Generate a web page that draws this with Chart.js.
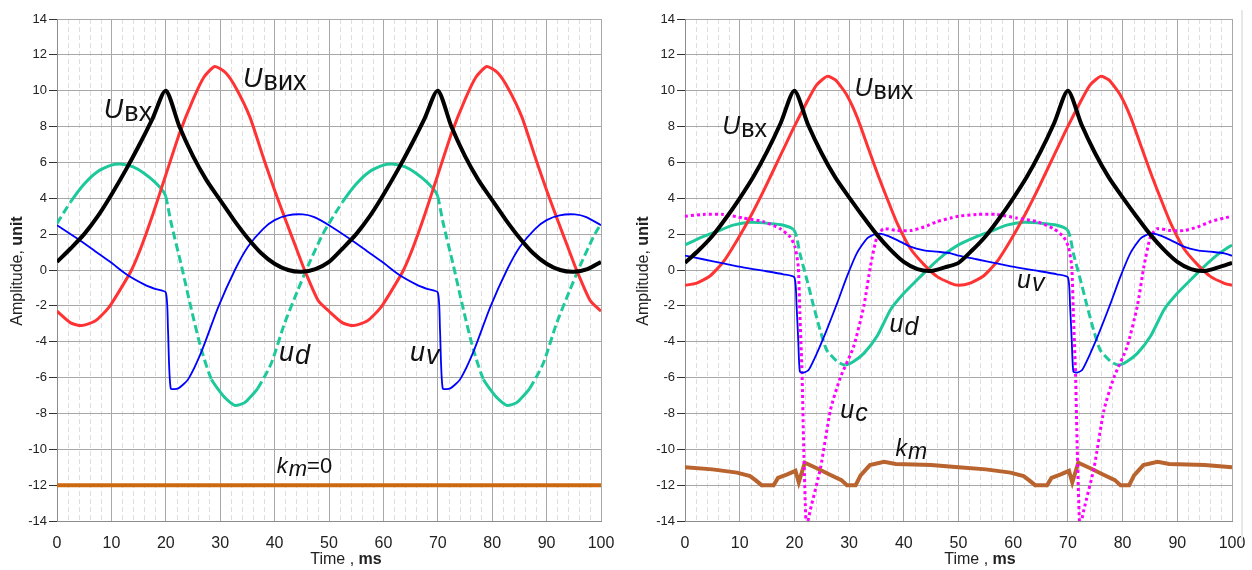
<!DOCTYPE html>
<html>
<head>
<meta charset="utf-8">
<script src="https://cdn.jsdelivr.net/npm/chart.js@4.4.0/dist/chart.umd.min.js"></script>
<style>
  body { margin: 0; background: #fff; width: 1252px; height: 570px; overflow: hidden; position: relative; }
  .panel { position: absolute; top: 0; }
  #leftPanel { left: 0; }
  #rightPanel { left: 627px; }
  #frameLine { position: absolute; left: 1241px; top: 10px; width: 2px; height: 532px; background: #e8e8e8; }
</style>
</head>
<body>
<div class="panel" id="leftPanel"><canvas id="chartLeft" width="620" height="570"></canvas></div>
<div class="panel" id="rightPanel"><canvas id="chartRight" width="625" height="570"></canvas></div>
<div id="frameLine"></div>
<script>
// axis ticks
const xTicks = [0, 10, 20, 30, 40, 50, 60, 70, 80, 90, 100];
const yTicks = [-14, -12, -10, -8, -6, -4, -2, 0, 2, 4, 6, 8, 10, 12, 14];

// left panel (k_m = 0), [time ms, amplitude]
const uInLeft = [[0,0.45],[2.5,1.2],[5,2.0],[7.5,3.0],[10,4.2],[12.5,5.5],[15,6.9],[17.5,8.4],[20,10],[22.5,8.0],[25,6.35],[27.5,5.0],[30,3.9],[32.5,2.8],[35,1.8],[37.5,0.95],[40,0.35],[42.5,0.0],[45,-0.1],[47.5,0.05],
  [50,0.45],[52.5,1.2],[55,2.0],[57.5,3.0],[60,4.2],[62.5,5.5],[65,6.9],[67.5,8.4],[70,10],[72.5,8.0],[75,6.35],[77.5,5.0],[80,3.9],[82.5,2.8],[85,1.8],[87.5,0.95],[90,0.35],[92.5,0.0],[95,-0.1],[97.5,0.05],[100,0.45]];
const uOutLeft = [[0,-2.3],[2.5,-2.95],[4.5,-3.1],[7,-2.85],[9.5,-2.1],[12,-0.9],[13.7,0],[15.5,1.3],[17.5,3.0],[20,5.3],[22.5,7.6],[25,9.5],[27,10.75],[29,11.35],[31,11.0],[33,10.1],[35.5,8.5],[38,6.2],[40,4.45],[42,2.8],[44,1.2],[45.5,0],[48,-1.7],
  [50,-2.3],[52.5,-2.95],[54.5,-3.1],[57,-2.85],[59.5,-2.1],[62,-0.9],[63.7,0],[65.5,1.3],[67.5,3.0],[70,5.3],[72.5,7.6],[75,9.5],[77,10.75],[79,11.35],[81,11.0],[83,10.1],[85.5,8.5],[88,6.2],[90,4.45],[92,2.8],[94,1.2],[95.5,0],[98,-1.7],[100,-2.3]];
const udLeft = [[0,2.6],[2.5,3.8],[5,4.8],[7.5,5.5],[10,5.85],[12,5.9],[14,5.75],[16,5.4],[18,4.9],[19.5,4.4],[20,4.1],[21,2.6],[22.9,0.2],[24.7,-2.2],[26.5,-4.4],[28.4,-6.1],[30.8,-7.1],[32.7,-7.55],[34.5,-7.4],[36.9,-6.6],[39.4,-5.2],[41.8,-3.0],[44.3,-1.1],[46.1,0.2],[48.6,1.85],
  [50,2.6],[52.5,3.8],[55,4.8],[57.5,5.5],[60,5.85],[62,5.9],[64,5.75],[66,5.4],[68,4.9],[69.5,4.4],[70,4.1],[71,2.6],[72.9,0.2],[74.7,-2.2],[76.5,-4.4],[78.4,-6.1],[80.8,-7.1],[82.7,-7.55],[84.5,-7.4],[86.9,-6.6],[89.4,-5.2],[91.8,-3.0],[94.3,-1.1],[96.1,0.2],[98.6,1.85],[100,2.6]];
const uvLeft = [[0,2.5],[4,1.7],[7,1.05],[10,0.4],[12.8,-0.25],[16,-0.8],[18,-1.05],[20,-1.25],[20.4,-3.3],[20.9,-6.6],[22.3,-6.6],[24.1,-6.1],[26.5,-4.6],[29.6,-2.1],[32.7,0],[35.1,1.3],[37.9,2.3],[40,2.78],[42.4,3.05],[45.2,3.1],[47.3,2.95],
  [50,2.5],[54,1.7],[57,1.05],[60,0.4],[62.8,-0.25],[66,-0.8],[68,-1.05],[70,-1.25],[70.4,-3.3],[70.9,-6.6],[72.3,-6.6],[74.1,-6.1],[76.5,-4.6],[79.6,-2.1],[82.7,0],[85.1,1.3],[87.9,2.3],[90,2.78],[92.4,3.05],[95.2,3.1],[97.3,2.95],[100,2.5]];
const kmLeft = [[0,-12],[100,-12]];

// right panel
const uInRight = [[0,0.4],[2.5,1.1],[5,1.9],[7.5,2.9],[10,4.0],[12.5,5.2],[15,6.6],[17.5,8.2],[20,10],[22.5,8.1],[25,6.5],[27.5,5.15],[30,4.05],[32.5,3.0],[35,2.0],[37.5,1.15],[40,0.45],[42.5,0.05],[45,-0.05],[47.5,0.15],
  [50,0.4],[52.5,1.1],[55,1.9],[57.5,2.9],[60,4.0],[62.5,5.2],[65,6.6],[67.5,8.2],[70,10],[72.5,8.1],[75,6.5],[77.5,5.15],[80,4.05],[82.5,3.0],[85,2.0],[87.5,1.15],[90,0.45],[92.5,0.05],[95,-0.05],[97.5,0.15],[100,0.4]];
const uOutRight = [[0,-0.85],[2,-0.75],[4.5,-0.35],[7,0.45],[9.5,1.65],[12,3.0],[14.5,4.5],[17,6.1],[19.5,7.7],[22,9.2],[24,10.3],[26,10.8],[27.5,10.6],[29.5,9.8],[31.5,8.5],[33.5,6.8],[35.4,5.2],[37,3.95],[38.8,2.6],[41.2,1.2],[43.7,0.3],[46.1,-0.37],[48.6,-0.74],
  [50,-0.85],[52,-0.75],[54.5,-0.35],[57,0.45],[59.5,1.65],[62,3.0],[64.5,4.5],[67,6.1],[69.5,7.7],[72,9.2],[74,10.3],[76,10.8],[77.5,10.6],[79.5,9.8],[81.5,8.5],[83.5,6.8],[85.4,5.2],[87,3.95],[88.8,2.6],[91.2,1.2],[93.7,0.3],[96.1,-0.37],[98.6,-0.74],[100,-0.85]];
const udRight = [[0,1.4],[3.3,1.86],[5.75,2.14],[8.8,2.5],[11.9,2.66],[15.5,2.6],[18,2.5],[19.8,2.27],[20.4,1.86],[21,0.93],[22.3,-0.56],[23.5,-2.0],[24.7,-3.35],[25.9,-4.46],[27.8,-5.1],[29.3,-5.3],[30.8,-5.1],[32.7,-4.65],[35.1,-3.7],[37.6,-2.2],[40,-1.3],[42.4,-0.56],[44.9,0.19],[47.3,0.84],
  [50,1.4],[53.3,1.86],[55.75,2.14],[58.8,2.5],[61.9,2.66],[65.5,2.6],[68,2.5],[69.8,2.27],[70.4,1.86],[71,0.93],[72.3,-0.56],[73.5,-2.0],[74.7,-3.35],[75.9,-4.46],[77.8,-5.1],[79.3,-5.3],[80.8,-5.1],[82.7,-4.65],[85.1,-3.7],[87.6,-2.2],[90,-1.3],[92.4,-0.56],[94.9,0.19],[97.3,0.84],[100,1.4]];
const uvRight = [[0,0.8],[3.3,0.6],[7,0.37],[10.6,0.15],[14.3,-0.04],[18,-0.24],[20,-0.41],[20.4,-2.0],[20.7,-3.9],[21,-5.67],[21.7,-5.72],[22.6,-5.58],[24.1,-4.65],[25.9,-3.35],[27.8,-1.86],[29.6,-0.37],[31.4,0.93],[33.3,1.77],[34.8,2.0],[36.3,1.99],[38.8,1.67],[41.2,1.3],[43.7,1.1],[46.1,1.02],[48.6,0.93],
  [50,0.8],[53.3,0.6],[57,0.37],[60.6,0.15],[64.3,-0.04],[68,-0.24],[70,-0.41],[70.4,-2.0],[70.7,-3.9],[71,-5.67],[71.7,-5.72],[72.6,-5.58],[74.1,-4.65],[75.9,-3.35],[77.8,-1.86],[79.6,-0.37],[81.4,0.93],[83.3,1.77],[84.8,2.0],[86.3,1.99],[88.8,1.67],[91.2,1.3],[93.7,1.1],[96.1,1.02],[98.6,0.93],[100,0.8]];
const ucRight = [[0,3.0],[3.3,3.1],[7,3.1],[10.6,2.9],[14.3,2.7],[17.4,2.3],[19.2,1.85],[20.1,1.3],[20.7,0.2],[21,-2.4],[21.4,-5.8],[21.7,-9.9],[22.1,-14],[22.3,-14.5],[22.5,-14],[22.9,-13.4],[24.8,-11.0],[26.6,-7.8],[28.4,-6.0],[30.8,-4.3],[32.7,-2.0],[33.9,0.2],[35.1,1.86],[36.3,2.3],[38.8,2.2],[41.2,2.2],[43.7,2.4],[46.1,2.7],[48.6,2.9],
  [50,3.0],[53.3,3.1],[57,3.1],[60.6,2.9],[64.3,2.7],[67.4,2.3],[69.2,1.85],[70.1,1.3],[70.7,0.2],[71,-2.4],[71.4,-5.8],[71.7,-9.9],[72.1,-14],[72.3,-14.5],[72.5,-14],[72.9,-13.4],[74.8,-11.0],[76.6,-7.8],[78.4,-6.0],[80.8,-4.3],[82.7,-2.0],[83.9,0.2],[85.1,1.86],[86.3,2.3],[88.8,2.2],[91.2,2.2],[93.7,2.4],[96.1,2.7],[98.6,2.9],[100,3.0]];
const kmRight = [[0,-11.0],[5,-11.12],[9.5,-11.3],[11.9,-11.5],[13,-11.75],[14,-12.0],[16.2,-12.0],[17,-11.6],[18.7,-11.4],[20.2,-11.2],[20.8,-11.85],[21.9,-10.75],[24.2,-11.07],[26.6,-11.43],[28.6,-11.72],[29.6,-12.0],[31.2,-12.0],[32.1,-11.45],[33.8,-10.88],[36.4,-10.7],[38.5,-10.82],[45,-10.88],
  [50,-11.0],[55,-11.12],[59.5,-11.3],[61.9,-11.5],[63,-11.75],[64,-12.0],[66.2,-12.0],[67,-11.6],[68.7,-11.4],[70.2,-11.2],[70.8,-11.85],[71.9,-10.75],[74.2,-11.07],[76.6,-11.43],[78.6,-11.72],[79.6,-12.0],[81.2,-12.0],[82.1,-11.45],[83.8,-10.88],[86.4,-10.7],[88.5,-10.82],[95,-10.88],[100,-11.0]];

// curve captions, placed in data units
const notesLeft = [
  { x: 8.6, y: 8.5, main: 'U', sub: 'вх' },
  { x: 34.2, y: 10.2, main: 'U', sub: 'вих' },
  { x: 40.8, y: -5.1, main: 'u', sub: 'd', subItalic: true },
  { x: 64.9, y: -5.1, main: 'u', sub: 'v', subItalic: true },
  { x: 40.4, y: -11.3, main: 'k', sub: 'm', subItalic: true, tail: '=0', small: true }
];
const notesRight = [
  { x: 6.8, y: 7.6, main: 'U', sub: 'вх' },
  { x: 31.0, y: 9.7, main: 'U', sub: 'вих' },
  { x: 60.7, y: -1.0, main: 'u', sub: 'v', subItalic: true },
  { x: 37.4, y: -3.45, main: 'u', sub: 'd', subItalic: true },
  { x: 28.4, y: -8.25, main: 'u', sub: 'c', subItalic: true },
  { x: 38.5, y: -10.4, main: 'k', sub: 'm', subItalic: true, small: true }
];

const FONT = '"Liberation Sans", Arial, sans-serif';
const dashedLeft = [[0, 3], [20, 29], [38, 53], [70, 79], [88, 100]];
const dashedRight = [[20, 29.3], [70, 79.3]];
const inRanges = (v, ranges) => ranges.some(([a, b]) => v >= a && v < b);

// light dashed vertical lines every 2 ms
const minorGrid = {
  id: "minorGrid",
  beforeDraw(chart) {
    const { ctx, chartArea: a } = chart;
    const x = chart.scales.x;
    ctx.save();
    ctx.strokeStyle = "#dedede";
    ctx.lineWidth = 1;
    ctx.setLineDash([5, 3]);
    for (let v = x.min + 2; v < x.max; v += 2) {
      if (v % 10 === 0) continue;
      const px = Math.round(x.getPixelForValue(v)) + 0.5;
      ctx.beginPath();
      ctx.moveTo(px, a.top);
      ctx.lineTo(px, a.bottom);
      ctx.stroke();
    }
    ctx.restore();
  },
};

const curveLabels = {
  id: "curveLabels",
  afterDatasetsDraw(chart, args, opts) {
    const { ctx } = chart;
    const { x, y } = chart.scales;
    ctx.save();
    ctx.fillStyle = "#111";
    ctx.textBaseline = "alphabetic";
    opts.items.forEach((it) => {
      const size = it.small ? opts.smallSize : opts.size;
      let px = x.getPixelForValue(it.x);
      const py = y.getPixelForValue(it.y);
      ctx.font = `italic ${size}px ${FONT}`;
      ctx.fillText(it.main, px, py);
      px += ctx.measureText(it.main).width + 1;
      ctx.font = `${it.subItalic ? "italic " : ""}${size}px ${FONT}`;
      ctx.fillText(it.sub, px, py + opts.subDrop);
      px += ctx.measureText(it.sub).width;
      if (it.tail) {
        ctx.font = `${size}px ${FONT}`;
        ctx.fillText(it.tail, px, py);
      }
    });
    ctx.restore();
  },
};

function drawMixed(ctx, parts, cx, cy, size) {
  let total = 0;
  parts.forEach(([t, w]) => {
    ctx.font = `${w} ${size}px ${FONT}`;
    total += ctx.measureText(t).width;
  });
  let px = cx - total / 2;
  parts.forEach(([t, w]) => {
    ctx.font = `${w} ${size}px ${FONT}`;
    ctx.fillText(t, px, cy);
    px += ctx.measureText(t).width;
  });
}

const axisTitles = {
  id: "axisTitles",
  afterDraw(chart, args, o) {
    const { ctx } = chart;
    ctx.save();
    ctx.fillStyle = "#222";
    ctx.textBaseline = "middle";
    drawMixed(ctx, [["Time , ", "normal"], ["ms", "bold"]], o.xTitleX, o.xTitleY, 16);
    ctx.translate(o.yTitleX, o.yTitleY);
    ctx.rotate(-Math.PI / 2);
    drawMixed(ctx, [["Amplitude, ", "normal"], ["unit", "bold"]], 0, 0, 16);
    ctx.restore();
  },
};

function series(points, color, width, extra) {
  return Object.assign(
    {
      data: points.map(([x, y]) => ({ x, y })),
      borderColor: color,
      backgroundColor: color,
      borderWidth: width,
      pointRadius: 0,
      fill: false,
      tension: 0.2,
    },
    extra
  );
}

function makeChart(id, datasets, notes, o) {
  new Chart(document.getElementById(id), {
    type: "line",
    data: { datasets },
    options: {
      responsive: false,
      animation: false,
      devicePixelRatio: 1,
      events: [],
      layout: { padding: { left: 0, right: o.padRight, top: 19, bottom: 0 } },
      scales: {
        x: {
          type: "linear",
          min: 0,
          max: 100,
          afterBuildTicks: (s) => { s.ticks = xTicks.map((v) => ({ value: v })); },
          afterFit: (s) => { s.height = 49; s.paddingLeft = 0; s.paddingRight = 0; },
          ticks: { font: { family: FONT, size: 16 }, color: "#222", padding: 13, maxRotation: 0, autoSkip: false },
          grid: { color: "#a8a8a8", drawTicks: false },
          border: { color: "#8c8c8c" },
        },
        y: {
          type: "linear",
          min: -14,
          max: 14,
          afterBuildTicks: (s) => { s.ticks = yTicks.map((v) => ({ value: v })); },
          afterFit: (s) => { s.width = o.yWidth; },
          ticks: { font: { family: FONT, size: 13 }, color: "#222", padding: 2 },
          grid: { color: "#a8a8a8", tickLength: 8, tickColor: "#333" },
          border: { color: "#8c8c8c" },
        },
      },
      plugins: {
        legend: { display: false },
        tooltip: { enabled: false },
        curveLabels: { items: notes, size: o.labelSize, smallSize: o.smallSize, subDrop: 3 },
        axisTitles: o.titles,
      },
    },
    plugins: [minorGrid, curveLabels, axisTitles],
  });
}

// Left chart: k_m = 0
makeChart(
  "chartLeft",
  [
    series(uInLeft, "#000000", 4, { tension: 0.25 }),
    series(uvLeft, "#0000ff", 1.8),
    series(uOutLeft, "#ff3333", 3),
    series(udLeft, "#1dc99b", 3, {
      segment: { borderDash: (c) => (inRanges((c.p0.parsed.x + c.p1.parsed.x) / 2, dashedLeft) ? [8, 4] : undefined) },
    }),
    series(kmLeft, "#cc6a12", 4, { tension: 0 }),
  ],
  notesLeft,
  { padRight: 19, yWidth: 57, labelSize: 27, smallSize: 22,
    titles: { xTitleX: 346, xTitleY: 560, yTitleX: 18, yTitleY: 271 } }
);

// Right chart
makeChart(
  "chartRight",
  [
    series(uInRight, "#000000", 4, { tension: 0.25 }),
    series(uvRight, "#0000ff", 1.8),
    series(ucRight, "#ff00ff", 3, { borderDash: [3, 3], borderCapStyle: "butt" }),
    series(uOutRight, "#ff3333", 3),
    series(udRight, "#1dc99b", 3, {
      segment: { borderDash: (c) => (inRanges((c.p0.parsed.x + c.p1.parsed.x) / 2, dashedRight) ? [8, 4] : undefined) },
    }),
    series(kmRight, "#b9632f", 4, { tension: 0 }),
  ],
  notesRight,
  { padRight: 20, yWidth: 58, labelSize: 25, smallSize: 23,
    titles: { xTitleX: 353, xTitleY: 560, yTitleX: 17, yTitleY: 271 } }
);
</script>
</body>
</html>
